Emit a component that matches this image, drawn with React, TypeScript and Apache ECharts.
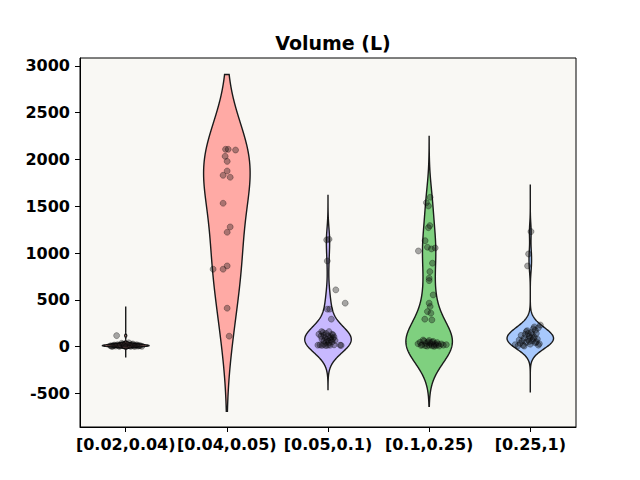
import { useEffect, useRef } from "react";
import * as echarts from "echarts";

// Volume bins on the horizontal axis
const categories = ["[0.02,0.04)", "[0.04,0.05)", "[0.05,0.1)", "[0.1,0.25)", "[0.25,1)"];
const fillColors = ["#f6a39c", "#ffaaa5", "#c8b9ff", "#7fd07f", "#a7c8fc"];
const yTicks = [-500, 0, 500, 1000, 1500, 2000, 2500, 3000];
const xTicks = [0, 1, 2, 3, 4];

// Kernel density settings for each violin
const bandwidths = [12, 430, 130, 215, 90];
const supportLow = [-118, -693, -460, -640, -492];
const supportHigh = [428, 2909, 1615, 2246, 1733];

// Observations: [horizontal jitter, volume]
const group0Points = [
  [-0.09, 117], [-0.15, 8], [-0.12, 12], [-0.1, 5], [-0.08, 20], [-0.06, 3], [-0.05, 15],
  [-0.03, 25], [-0.02, 9], [0, 30], [0.01, 4], [0.02, 18], [0.04, 11], [0.05, 2], [0.06, 22],
  [0.08, 7], [0.1, 14], [0.12, 5], [0.14, 10], [0.16, 3], [-0.13, 2], [-0.04, 35], [0.03, 40],
  [0.07, 28], [-0.07, 6], [0.09, 1], [-0.11, 16], [0.11, 19], [-0.01, 12], [0.13, 8], [-0.14, 4],
];
const group1Points = [
  [-0.013, 2109], [0.013, 2109], [0.086, 2101], [-0.017, 2034], [0.003, 1980], [0.003, 1877],
  [-0.037, 1831], [0.033, 1810], [-0.037, 1532], [0.033, 1279], [0.003, 1222], [-0.136, 827],
  [-0.037, 827], [0.003, 862], [0.003, 410], [0.023, 111],
];
const group2Points = [
  [-0.013, 1140], [0.01, 1147], [-0.007, 915], [0.077, 606], [0.17, 464], [-0.007, 400],
  [0.017, 400], [0.033, 293], [-0.063, 160], [-0.09, 132],
  [-0.05, 150], [-0.02, 140], [0.01, 160], [0.04, 130], [-0.04, 120], [0, 115], [0.03, 105],
  [0.06, 100], [-0.03, 95], [0.02, 90], [0.05, 85], [-0.06, 80], [-0.01, 75], [0.03, 70],
  [0.07, 65], [-0.04, 60], [0, 55], [0.04, 50], [-0.02, 45], [0.01, 40], [0.05, 125], [-0.07, 110],
  [-0.1, 15], [-0.08, 18], [-0.06, 12], [-0.04, 20], [-0.02, 10], [0, 16], [0.02, 14],
  [0.06, 18], [0.12, 15], [0.13, 12],
];
const group3Points = [
  [0.01, 1596], [-0.027, 1538], [-0.007, 1503], [0.007, 1293], [-0.007, 1271], [-0.04, 1132],
  [-0.017, 1062], [0.023, 1044], [0.06, 1054], [-0.106, 1022], [0.033, 891], [0.007, 801],
  [0, 731], [0, 705], [0.04, 552], [0, 464], [0.01, 428], [-0.017, 374], [0.017, 357],
  [-0.043, 293], [0.027, 285],
  [-0.11, 30], [-0.09, 45], [-0.07, 20], [-0.05, 60], [-0.04, 10], [-0.03, 35], [-0.02, 5],
  [-0.01, 50], [0, 15], [0.01, 40], [0.02, 25], [0.03, 8], [0.04, 55], [0.05, 18], [0.06, 30],
  [0.07, 12], [0.08, 42], [0.09, 22], [0.1, 6], [0.12, 28], [0.14, 15], [0.17, 20], [-0.06, 70],
  [0, 65], [0.05, 3], [-0.08, 12], [0.03, 48],
];
const group4Points = [
  [0.007, 1229], [-0.017, 990], [-0.027, 862],
  [-0.15, 20], [-0.12, 10], [-0.1, 35], [-0.08, 60], [-0.07, 15], [-0.06, 90], [-0.05, 130],
  [-0.04, 45], [-0.03, 170], [-0.02, 75], [-0.01, 110], [0, 25], [0.01, 150], [0.02, 60],
  [0.03, 190], [0.04, 100], [0.05, 40], [0.06, 140], [0.07, 80], [0.08, 200], [0.09, 30],
  [0.1, 230], [-0.09, 120], [-0.04, 160], [0, 95], [0.02, 125], [-0.01, 55], [0.05, 175],
  [0.08, 15], [-0.11, 70], [0.04, 210], [-0.06, 5], [0.03, 85], [-0.02, 140], [0.06, 50],
];

const groups = [group0Points, group1Points, group2Points, group3Points, group4Points];
const HALF_WIDTH = 0.23;
const GRID_STEPS = 300;

// Gaussian KDE over a fixed support, scaled so every violin has the same maximum width
function violinProfile(values: number[], bw: number, lo: number, hi: number): [number, number][] {
  const out: [number, number][] = [];
  let peak = 0;
  for (let k = 0; k <= GRID_STEPS; k++) {
    const y = lo + ((hi - lo) * k) / GRID_STEPS;
    let d = 0;
    for (const v of values) {
      const z = (y - v) / bw;
      d += Math.exp(-0.5 * z * z);
    }
    peak = Math.max(peak, d);
    out.push([y, d]);
  }
  return out.map(([y, d]) => [y, (d / peak) * HALF_WIDTH]);
}

const profiles = groups.map((pts, i) =>
  violinProfile(pts.map((p) => p[1]), bandwidths[i], supportLow[i], supportHigh[i])
);

const axisFont = { fontSize: 16, fontWeight: "bold" as const, fontFamily: "DejaVu Sans", color: "#000" };

export default function App() {
  const ref = useRef<HTMLDivElement>(null);
  useEffect(() => {
    if (!ref.current) return;
    const chart = echarts.init(ref.current, null, { renderer: "svg" });
    chart.setOption({
      animation: false,
      backgroundColor: "#ffffff",
      title: {
        text: "Volume (L)",
        left: 328,
        top: 28,
        textAlign: "center",
        textStyle: { fontSize: 19, fontWeight: "bold", fontFamily: "DejaVu Sans", color: "#000" },
      },
      grid: {
        left: 80,
        top: 58,
        width: 496,
        height: 369,
        show: true,
        backgroundColor: "#f9f8f4",
        borderColor: "#000",
        borderWidth: 1,
      },
      xAxis: {
        type: "value",
        min: -0.452,
        max: 4.452,
        axisLine: { show: true, onZero: false, lineStyle: { color: "#000", width: 1 } },
        axisTick: { show: true, length: 5, customValues: xTicks, lineStyle: { color: "#000" } },
        axisLabel: {
          ...axisFont,
          margin: 9,
          customValues: xTicks,
          formatter: (v: number) => categories[Math.round(v)] ?? "",
        },
        splitLine: { show: false },
      },
      yAxis: {
        type: "value",
        min: -860,
        max: 3085,
        axisLine: { show: true, onZero: false, lineStyle: { color: "#000", width: 1 } },
        axisTick: { show: true, length: 5, customValues: yTicks, lineStyle: { color: "#000" } },
        axisLabel: { ...axisFont, margin: 10, customValues: yTicks, formatter: (v: number) => String(v) },
        splitLine: { show: false },
      },
      series: [
        {
          type: "custom",
          data: categories.map((_, i) => [i, 0]),
          z: 2,
          renderItem: (params: any, api: any) => {
            const i = params.dataIndex;
            const prof = profiles[i];
            const right = prof.map(([y, w]) => api.coord([i + w, y]));
            const left = prof
              .slice()
              .reverse()
              .map(([y, w]) => api.coord([i - w, y]));
            return {
              type: "polygon",
              shape: { points: right.concat(left) },
              style: { fill: fillColors[i], stroke: "#1a1a1a", lineWidth: 1.4 },
            };
          },
        },
        {
          type: "scatter",
          z: 3,
          symbol: "circle",
          symbolSize: 6,
          itemStyle: { color: "rgba(20,20,20,0.45)", borderColor: "rgba(0,0,0,0.45)", borderWidth: 0.8 },
          data: groups.flatMap((pts, i) => pts.map(([dx, v]) => [i + dx, v])),
        },
      ],
    });
    return () => chart.dispose();
  }, []);
  return (
    <div
      ref={ref}
      style={{ position: "absolute", left: 0, top: 0, width: 640, height: 480 }}
    />
  );
}
